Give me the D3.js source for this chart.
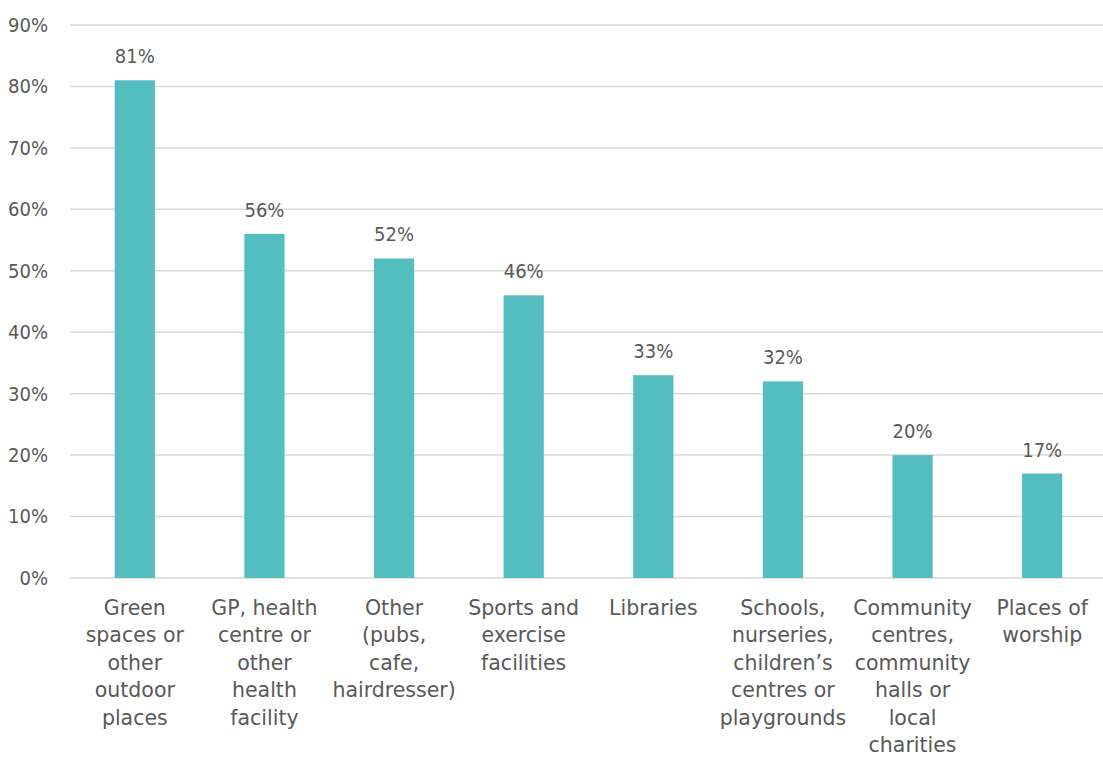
<!DOCTYPE html>
<html>
<head>
<meta charset="utf-8">
<script src="https://cdn.jsdelivr.net/npm/d3@7"></script>
<style>
  html, body { margin: 0; padding: 0; background: #fff; }
  svg { display: block; }
  text { font-family: "DejaVu Sans Condensed", "DejaVu Sans", sans-serif; fill: #595959; }
  .cat text { font-family: "DejaVu Sans", sans-serif; }
</style>
</head>
<body>
<svg id="chart" width="1103" height="758"></svg>
<script>
// Places used, share of respondents
const categories = [
  ["Green", "spaces or", "other", "outdoor", "places"],
  ["GP, health", "centre or", "other", "health", "facility"],
  ["Other", "(pubs,", "cafe,", "hairdresser)"],
  ["Sports and", "exercise", "facilities"],
  ["Libraries"],
  ["Schools,", "nurseries,", "children\u2019s", "centres or", "playgrounds"],
  ["Community", "centres,", "community", "halls or", "local", "charities"],
  ["Places of", "worship"]
];
const values = [81, 56, 52, 46, 33, 32, 20, 17];
const yTicks = [0, 10, 20, 30, 40, 50, 60, 70, 80, 90];

const svg = d3.select("#chart");
const plotLeft = 70, plotRight = 1107, plotTop = 25, plotBottom = 578;

const x = d3.scaleBand()
  .domain(d3.range(values.length))
  .range([plotLeft, plotRight])
  .paddingInner(0.69)
  .paddingOuter(0.345);

const y = d3.scaleLinear().domain([0, 90]).range([plotBottom, plotTop]);

// gridlines
svg.append("g")
  .selectAll("line")
  .data(yTicks)
  .join("line")
  .attr("x1", plotLeft).attr("x2", 1103)
  .attr("y1", d => y(d)).attr("y2", d => y(d))
  .attr("stroke", "#d9d9d9").attr("stroke-width", 1.5);

// y axis labels
const yAxis = d3.axisLeft(y).tickValues(yTicks).tickFormat(d => d + "%").tickSize(0).tickPadding(0);
const ya = svg.append("g").attr("transform", "translate(48,0)").call(yAxis);
ya.select(".domain").remove();
ya.selectAll("text")
  .attr("font-size", 20)
  .attr("fill", "#595959")
  .style("font-family", '"DejaVu Sans Condensed", "DejaVu Sans", sans-serif');

// bars
svg.append("g")
  .selectAll("rect")
  .data(values)
  .join("rect")
  .attr("x", (d, i) => x(i))
  .attr("width", x.bandwidth())
  .attr("y", d => y(d))
  .attr("height", d => y(0) - y(d))
  .attr("fill", "#53bdc0");

// value labels
svg.append("g")
  .selectAll("text")
  .data(values)
  .join("text")
  .attr("x", (d, i) => x(i) + x.bandwidth() / 2)
  .attr("y", d => y(d) - 17)
  .attr("text-anchor", "middle")
  .attr("font-size", 20)
  .text(d => d + "%");

// category labels
const cat = svg.append("g")
  .attr("class", "cat")
  .selectAll("text")
  .data(categories)
  .join("text")
  .attr("x", (d, i) => x(i) + x.bandwidth() / 2)
  .attr("y", 615)
  .attr("text-anchor", "middle")
  .attr("font-size", 20.5);
cat.selectAll("tspan")
  .data(d => d)
  .join("tspan")
  .attr("x", function () { return d3.select(this.parentNode).attr("x"); })
  .attr("dy", (d, i) => i === 0 ? 0 : 27.4)
  .text(d => d);
</script>
</body>
</html>
